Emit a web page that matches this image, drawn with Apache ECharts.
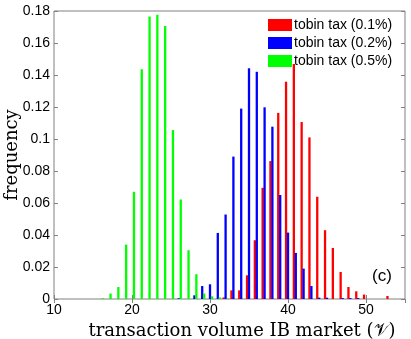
<!DOCTYPE html>
<html>
<head>
<meta charset="utf-8">
<script src="https://cdn.jsdelivr.net/npm/echarts@6/dist/echarts.min.js"></script>
<style>
  html, body { margin: 0; padding: 0; background: #fff; }
  #main { width: 411px; height: 339px; }
</style>
</head>
<body>
<div id="main"></div>
<script>
  // histogram bins (transaction volume) and frequencies per tobin tax level
  var bins = [16, 17, 18, 19, 20, 21, 22, 23, 24, 25, 26, 27, 28, 29, 30, 31, 32, 33, 34,
              35, 36, 37, 38, 39, 40, 41, 42, 43, 44, 45, 46, 47, 48, 49, 50, 51, 52, 53];
  var tax01 = [0, 0, 0, 0, 0, 0, 0, 0, 0, 0, 0, 0, 0, 0, 0, 0,
               0.001, 0.0054, 0.0054, 0.0148, 0.0367, 0.0695, 0.0862, 0.1163, 0.1358, 0.1469,
               0.1106, 0.101, 0.0639, 0.043, 0.0319, 0.0169, 0.0075, 0.0048, 0.0028, 0, 0, 0.0019];
  var tax02 = [0, 0, 0, 0, 0, 0, 0, 0, 0, 0,
               0.0005, 0, 0.0023, 0.0081, 0.0092, 0.0413, 0.0528, 0.089, 0.119, 0.1442, 0.142,
               0.1198, 0.1077, 0.065, 0.0415, 0.0288, 0.019, 0.0081, 0.0008, 0.0008, 0,
               0.0006, 0.0006, 0.0006, 0, 0, 0, 0];
  var tax05 = [0.0005, 0.0034, 0.0075, 0.034, 0.067, 0.1436, 0.1765, 0.1777, 0.1707, 0.1056,
               0.0622, 0.0305, 0.0155, 0.0034, 0.0017, 0.001, 0.0003,
               0, 0, 0, 0, 0, 0, 0, 0, 0, 0, 0, 0, 0, 0, 0, 0, 0, 0, 0, 0, 0];
  var seriesNames = ['tobin tax (0.1%)', 'tobin tax (0.2%)', 'tobin tax (0.5%)'];

  function pairs(vals) {
    return bins.map(function (b, i) { return [b, vals[i]]; });
  }

  var axisGray = '#808080';
  var tickFont = { color: '#000', fontSize: 14, fontFamily: 'Liberation Sans' };

  var myChart = echarts.init(document.getElementById('main'));
  myChart.setOption({
    animation: false,
    color: ['#ff0000', '#0000ff', '#00ff00'],
    grid: {
      left: 54, right: 6, top: 11, bottom: 40,
      outerBoundsMode: 'none',
      containLabel: false,
      show: true, borderColor: axisGray, borderWidth: 1
    },
    legend: {
      data: seriesNames,
      orient: 'vertical',
      left: 268,
      top: 18,
      padding: 0,
      itemWidth: 24,
      itemHeight: 12,
      itemGap: 4,
      icon: 'rect',
      textStyle: { color: '#000', fontSize: 14, fontFamily: 'Liberation Sans', padding: [0, 0, 0, -3] }
    },
    graphic: [{
      type: 'text',
      left: 372,
      top: 268,
      style: { text: '(c)', fontSize: 17, fontFamily: 'Liberation Sans', fill: '#000' }
    }],
    xAxis: [
      {
        type: 'value',
        min: 10, max: 55, interval: 10,
        name: 'transaction volume IB market (𝒱)',
        nameLocation: 'middle',
        nameGap: 18,
        nameTextStyle: { color: '#000', fontSize: 18, fontFamily: 'DejaVu Serif', padding: [0, 0, 0, 25] },
        axisLine: { show: false },
        axisTick: { inside: true, length: 4, lineStyle: { color: axisGray } },
        axisLabel: Object.assign({ margin: 4, showMaxLabel: false }, tickFont),
        splitLine: { show: false }
      },
      {
        type: 'value', position: 'top',
        min: 10, max: 55, interval: 10,
        axisLine: { show: false },
        axisTick: { inside: true, length: 4, lineStyle: { color: axisGray } },
        axisLabel: { show: false },
        splitLine: { show: false }
      }
    ],
    yAxis: [
      {
        type: 'value',
        min: 0, max: 0.18, interval: 0.02,
        name: 'frequency',
        nameLocation: 'middle',
        nameGap: 33,
        nameMoveOverlap: false,
        nameTextStyle: { color: '#000', fontSize: 18, fontFamily: 'DejaVu Serif' },
        axisLine: { show: false },
        axisTick: { inside: true, length: 4, lineStyle: { color: axisGray } },
        axisLabel: Object.assign({ margin: 4 }, tickFont),
        splitLine: { show: false }
      },
      {
        type: 'value', position: 'right',
        min: 0, max: 0.18, interval: 0.02,
        axisLine: { show: false },
        axisTick: { inside: true, length: 4, lineStyle: { color: axisGray } },
        axisLabel: { show: false },
        splitLine: { show: false }
      }
    ],
    series: [
      { name: seriesNames[0], type: 'bar', data: pairs(tax01), barWidth: 2.3, barGap: '-15%' },
      { name: seriesNames[1], type: 'bar', data: pairs(tax02), barWidth: 2.3, barGap: '-15%' },
      { name: seriesNames[2], type: 'bar', data: pairs(tax05), barWidth: 2.3, barGap: '-15%' }
    ]
  });
</script>
</body>
</html>
